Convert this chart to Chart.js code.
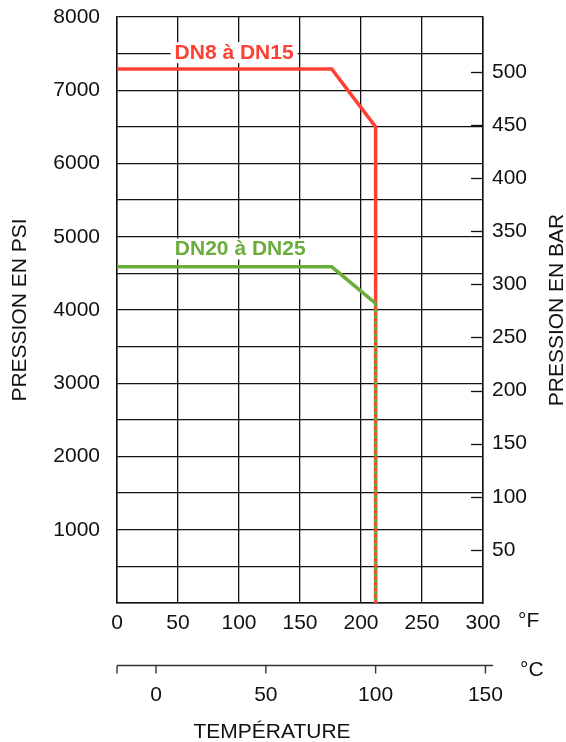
<!DOCTYPE html>
<html>
<head>
<meta charset="utf-8">
<script src="https://cdn.jsdelivr.net/npm/chart.js@4/dist/chart.umd.min.js"></script>
<style>
html,body{margin:0;padding:0;background:#fff;}
#wrap{width:566px;height:742px;position:relative;}
</style>
</head>
<body>
<div id="wrap"><canvas id="c" width="566" height="742"></canvas></div>
<script>
// ---- data ----
const redTempF   = [0, 176, 212, 212];
const redPsi     = [7290, 7290, 6500, 0];
const greenTempF = [0, 176, 212];
const greenPsi   = [4590, 4590, 4090];
const greenDashTempF = [212, 212];
const greenDashPsi   = [4090, 0];
const redLabel = 'DN8 à DN15';
const greenLabel = 'DN20 à DN25';
const fTicks = [0, 50, 100, 150, 200, 250, 300];
const psiTicks = [1000, 2000, 3000, 4000, 5000, 6000, 7000, 8000];
const barTicks = [50, 100, 150, 200, 250, 300, 350, 400, 450, 500];
const cTicks = [0, 50, 100, 150];
const PSI_PER_BAR = 14.5038;

const RED = '#fe4134';
const GREEN = '#6aad3b';
const FONT = '"Liberation Sans", Arial, sans-serif';
const FS = 21;

function pts(xs, ys){ return xs.map((x,i)=>({x:x, y:ys[i]})); }

const extras = {
  id: 'extras',
  beforeDatasetsDraw(chart){
    const {ctx, scales:{x, y}} = chart;
    const labels = [
      {text: redLabel, color: RED, fx: 96, psi: 7520},
      {text: greenLabel, color: GREEN, fx: 101, psi: 4840}
    ];
    ctx.save();
    ctx.font = 'bold 21px ' + FONT;
    ctx.textAlign = 'center';
    ctx.textBaseline = 'middle';
    labels.forEach(l => {
      const px = x.getPixelForValue(l.fx), py = y.getPixelForValue(l.psi);
      const w = ctx.measureText(l.text).width;
      ctx.fillStyle = '#fff';
      ctx.fillRect(px - w/2 - 4, py - 10, w + 8, 21);
      ctx.fillStyle = l.color;
      ctx.fillText(l.text, px, py + 1);
    });
    ctx.restore();
  },
  afterDraw(chart){
    const {ctx, scales:{x, y2}, chartArea} = chart;
    ctx.save();
    // inner tick marks of the bar axis
    ctx.strokeStyle = '#111';
    ctx.lineWidth = 1.3;
    barTicks.forEach(b => {
      const py = Math.round(y2.getPixelForValue(b)) + 0.5;
      ctx.beginPath();
      ctx.moveTo(chartArea.right - 12, py);
      ctx.lineTo(chartArea.right, py);
      ctx.stroke();
    });
    // right axis title (reads bottom to top)
    ctx.fillStyle = '#111';
    ctx.font = FS + 'px ' + FONT;
    ctx.textAlign = 'center';
    ctx.textBaseline = 'middle';
    ctx.save();
    ctx.translate(557, (chartArea.top + chartArea.bottom) / 2);
    ctx.rotate(-Math.PI / 2);
    ctx.fillText('PRESSION EN BAR', 0, 0);
    ctx.restore();
    // Celsius axis
    const cToF = c => c * 1.8 + 32;
    const yLine = 665.5;
    const xEnd = x.getPixelForValue(cToF(153.5));
    ctx.strokeStyle = '#333';
    ctx.lineWidth = 1.4;
    ctx.beginPath();
    ctx.moveTo(x.left, yLine);
    ctx.lineTo(xEnd, yLine);
    ctx.stroke();
    const tickXs = [x.left].concat(cTicks.map(c => x.getPixelForValue(cToF(c))));
    tickXs.forEach(px => {
      ctx.beginPath();
      ctx.moveTo(px, yLine);
      ctx.lineTo(px, yLine + 8);
      ctx.stroke();
    });
    cTicks.forEach(c => ctx.fillText(String(c), x.getPixelForValue(cToF(c)), 695));
    ctx.textAlign = 'left';
    ctx.fillText('°F', 518, 621);
    ctx.fillText('°C', 520, 670);
    ctx.textAlign = 'center';
    ctx.fillText('TEMPÉRATURE', 272, 732);
    ctx.restore();
  }
};

new Chart(document.getElementById('c'), {
  type: 'line',
  data: {
    datasets: [
      {data: pts(greenDashTempF, greenDashPsi), borderColor: GREEN, borderWidth: 3.5, borderDash: [3, 3], pointRadius: 0, fill: false},
      {data: pts(greenTempF, greenPsi), borderColor: GREEN, borderWidth: 3.5, pointRadius: 0, fill: false},
      {data: pts(redTempF, redPsi), borderColor: RED, borderWidth: 3.5, pointRadius: 0, fill: false}
    ]
  },
  options: {
    responsive: false,
    animation: false,
    devicePixelRatio: 1,
    events: [],
    layout: {padding: {top: 17, left: 0, right: 0, bottom: 0}},
    plugins: {legend: {display: false}, tooltip: {enabled: false}},
    scales: {
      x: {
        type: 'linear', min: 0, max: 300,
        afterBuildTicks: s => { s.ticks = fTicks.map(v => ({value: v})); },
        grid: {color: '#111', lineWidth: 1.3, drawTicks: false},
        border: {display: true, color: '#111', width: 1.5},
        ticks: {color: '#111', font: {family: FONT, size: FS}, padding: 8, maxRotation: 0, autoSkip: false},
        afterFit: s => { s.height = 139; }
      },
      y: {
        type: 'linear', position: 'left', min: 0, max: 8000,
        ticks: {stepSize: 500, color: '#111', font: {family: FONT, size: FS}, padding: 0,
          callback: v => psiTicks.includes(v) ? String(v) : ''},
        grid: {color: '#111', lineWidth: 1.3, drawTicks: true, tickLength: 17, tickColor: 'rgba(0,0,0,0)'},
        border: {display: true, color: '#111', width: 1.5},
        title: {display: true, text: 'PRESSION EN PSI', color: '#111', font: {family: FONT, size: FS, lineHeight: 1}, padding: {top: 10, bottom: 0}},
        afterFit: s => { s.width = 117; }
      },
      y2: {
        type: 'linear', position: 'right', min: 0, max: 8000 / PSI_PER_BAR,
        afterBuildTicks: s => { s.ticks = barTicks.map(v => ({value: v})); },
        ticks: {color: '#111', font: {family: FONT, size: FS}, padding: 0, autoSkip: false},
        grid: {display: true, drawOnChartArea: false, drawTicks: true, tickLength: 9, tickColor: 'rgba(0,0,0,0)'},
        border: {display: true, color: '#111', width: 1.5},
        afterFit: s => { s.width = 83; }
      }
    }
  },
  plugins: [extras]
});
</script>
</body>
</html>
